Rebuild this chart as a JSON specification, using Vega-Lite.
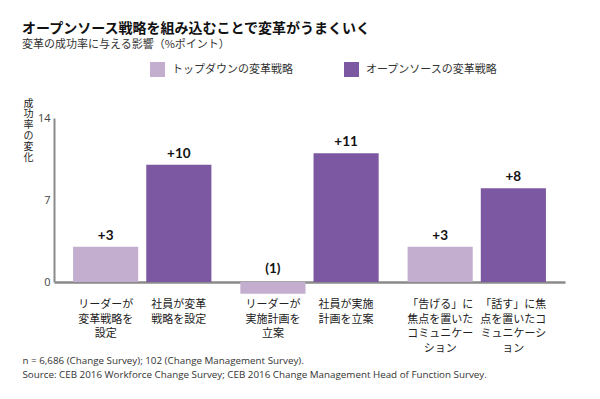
{
  "$schema": "https://vega.github.io/schema/vega-lite/v6.json",
  "autosize": {"type": "none"},
  "width": 511,
  "height": 164,
  "padding": {"left": 54, "top": 118, "right": 35, "bottom": 117},
  "background": "white",
  "title": {
    "text": "オープンソース戦略を組み込むことで変革がうまくいく",
    "subtitle": "変革の成功率に与える影響（%ポイント）",
    "anchor": "start",
    "frame": "group",
    "dx": -32,
    "offset": 12,
    "font": "Noto Sans CJK JP",
    "fontSize": 14,
    "fontWeight": "bold",
    "color": "#111111",
    "subtitleFont": "Noto Sans CJK JP",
    "subtitleFontSize": 11,
    "subtitleColor": "#333333",
    "subtitlePadding": 3
  },
  "config": {
    "view": {"stroke": null},
    "text": {"lineBreak": "\n"}
  },
  "data": {
    "values": [
      {"group": "変革戦略の設定", "series": "トップダウンの変革戦略", "value": 3, "label": "+3", "cat": "リーダーが\n変革戦略を\n設定"},
      {"group": "変革戦略の設定", "series": "オープンソースの変革戦略", "value": 10, "label": "+10", "cat": "社員が変革\n戦略を設定"},
      {"group": "実施計画の立案", "series": "トップダウンの変革戦略", "value": -1, "label": "(1)", "cat": "リーダーが\n実施計画を\n立案"},
      {"group": "実施計画の立案", "series": "オープンソースの変革戦略", "value": 11, "label": "+11", "cat": "社員が実施\n計画を立案"},
      {"group": "コミュニケーション", "series": "トップダウンの変革戦略", "value": 3, "label": "+3", "cat": "「告げる」に\n焦点を置いた\nコミュニケー\nション"},
      {"group": "コミュニケーション", "series": "オープンソースの変革戦略", "value": 8, "label": "+8", "cat": "「話す」に焦\n点を置いたコ\nミュニケーシ\nョン"}
    ]
  },
  "encoding": {
    "x": {
      "field": "group",
      "type": "nominal",
      "sort": null,
      "scale": {"paddingInner": 0.173, "paddingOuter": 0.114},
      "axis": {
        "labels": false,
        "ticks": false,
        "domain": true,
        "domainColor": "#8a8a8a",
        "domainWidth": 2.5,
        "title": ["n = 6,686 (Change Survey); 102 (Change Management Survey).", "Source: CEB 2016 Workforce Change Survey; CEB 2016 Change Management Head of Function Survey."],
        "titleFont": "Open Sans",
        "titleFontSize": 9.8,
        "titleFontWeight": "normal",
        "titleColor": "#333333",
        "titleAnchor": "start",
        "titleAlign": "left",
        "titleBaseline": "top",
        "titleLineHeight": 14,
        "titleX": -32,
        "titleY": 73
      }
    },
    "xOffset": {
      "field": "series",
      "type": "nominal",
      "sort": ["トップダウンの変革戦略", "オープンソースの変革戦略"],
      "scale": {"paddingInner": 0.11, "paddingOuter": 0}
    }
  },
  "layer": [
    {
      "mark": {"type": "bar"},
      "encoding": {
        "y": {
          "field": "value",
          "type": "quantitative",
          "scale": {"domain": [0, 14], "nice": false, "zero": true},
          "axis": {
            "values": [0, 7, 14],
            "grid": false,
            "ticks": false,
            "domain": true,
            "domainColor": "#8a8a8a",
            "domainWidth": 2,
            "labelFont": "Open Sans",
            "labelFontSize": 11,
            "labelColor": "#444444",
            "labelPadding": 4,
            "title": ["成", "功", "率", "の", "変", "化"],
            "titleAngle": 0,
            "titleAlign": "center",
            "titleBaseline": "top",
            "titleFont": "Noto Sans CJK JP",
            "titleFontSize": 10,
            "titleFontWeight": "normal",
            "titleColor": "#222222",
            "titleLineHeight": 10.8,
            "titleX": -26,
            "titleY": -20
          }
        },
        "color": {
          "field": "series",
          "type": "nominal",
          "scale": {"domain": ["トップダウンの変革戦略", "オープンソースの変革戦略"], "range": ["#c4aed0", "#7b58a1"]},
          "legend": {
            "title": null,
            "orient": "none",
            "direction": "horizontal",
            "legendX": 96,
            "legendY": -56,
            "symbolType": "square",
            "symbolSize": 225,
            "symbolStrokeWidth": 0,
            "symbolOpacity": 1,
            "labelFont": "Noto Sans CJK JP",
            "labelFontSize": 11,
            "labelColor": "#333333",
            "labelOffset": 7,
            "columnPadding": 51
          }
        }
      }
    },
    {
      "transform": [{"filter": "datum.value >= 0"}],
      "mark": {"type": "text", "baseline": "alphabetic", "dy": -7, "font": "Lato", "fontSize": 13.5, "fontWeight": "bold", "color": "#111111"},
      "encoding": {
        "y": {"field": "value", "type": "quantitative"},
        "text": {"field": "label"}
      }
    },
    {
      "transform": [{"filter": "datum.value < 0"}],
      "mark": {"type": "text", "baseline": "alphabetic", "dy": -9, "font": "Lato", "fontSize": 13.5, "fontWeight": "bold", "color": "#111111"},
      "encoding": {
        "y": {"datum": 0},
        "text": {"field": "label"}
      }
    },
    {
      "mark": {"type": "text", "baseline": "top", "dy": 17, "font": "Noto Sans CJK JP", "fontSize": 11, "lineHeight": 14.5, "color": "#222222"},
      "encoding": {
        "y": {"datum": 0},
        "text": {"field": "cat"}
      }
    }
  ]
}
